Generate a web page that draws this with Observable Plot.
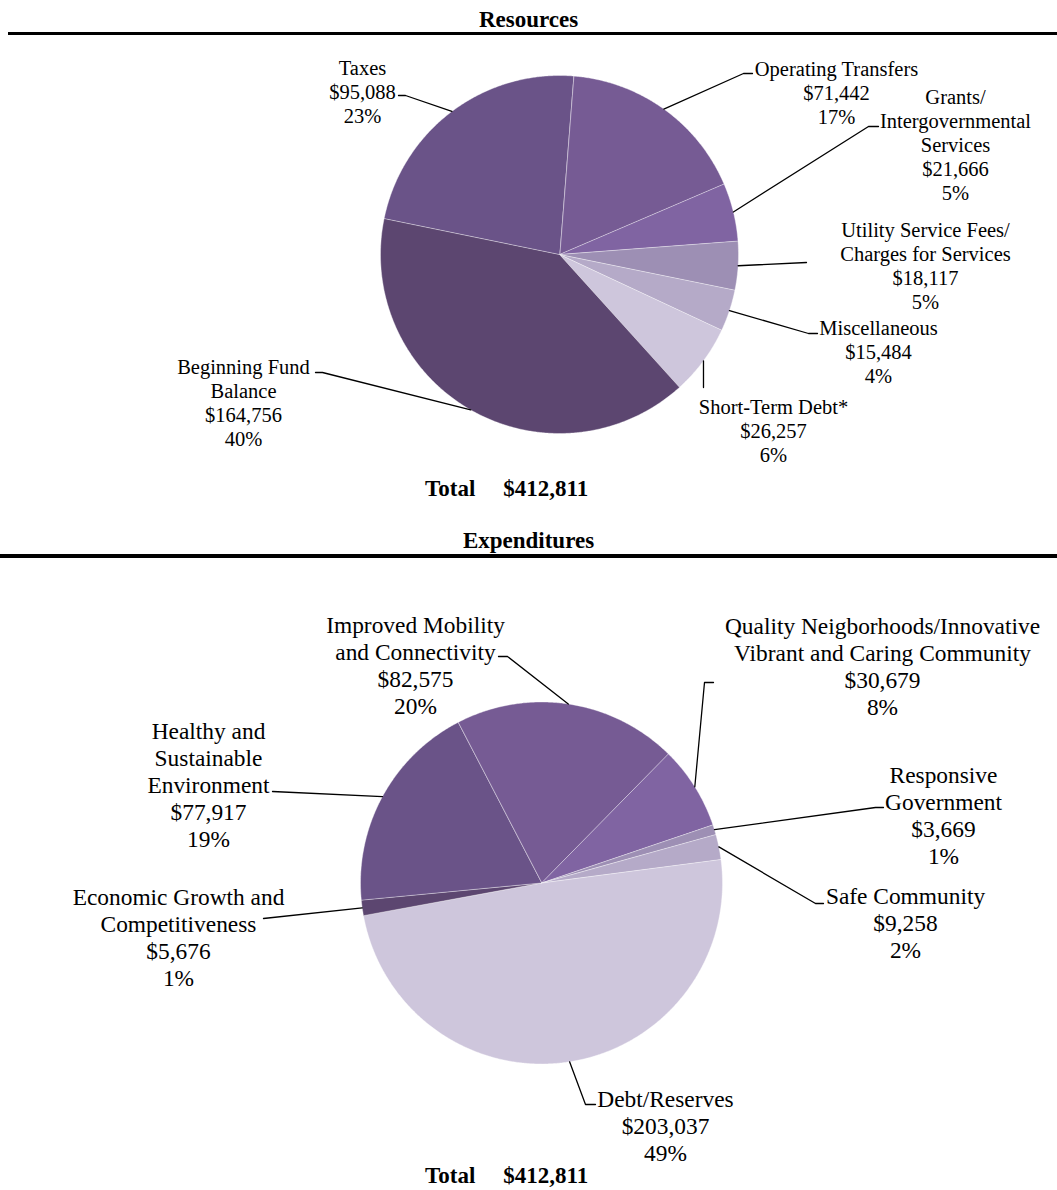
<!DOCTYPE html>
<html>
<head>
<meta charset="utf-8">
<script src="https://cdn.jsdelivr.net/npm/d3@7"></script>
<script src="https://cdn.jsdelivr.net/npm/@observablehq/plot@0.6"></script>
<style>
  body { margin: 0; background: #fff; font-family: "Liberation Serif", "Times New Roman", serif; }
  #page { position: relative; width: 1057px; height: 1190px; overflow: hidden; background: #fff; }
  .hd { position: absolute; left: 0; width: 1057px; text-align: center; font-weight: bold; font-size: 23px; line-height: 23px; color: #000; white-space: pre; }
  .total { position: absolute; left: 425px; font-weight: bold; font-size: 23px; line-height: 23px; color: #000; white-space: nowrap; }
  .total span.v { margin-left: 28px; }
  .rule { position: absolute; height: 3px; background: #000; }
  .plot { position: absolute; left: 0; }
</style>
</head>
<body>
<div id="page">
  <div class="hd" id="t1" style="top:8px"></div>
  <div class="rule" style="left:8px; width:1049px; top:32px"></div>
  <div class="plot" id="p1" style="top:36px"></div>
  <div class="total" id="tot1" style="top:477px"></div>
  <div class="hd" id="t2" style="top:529px"></div>
  <div class="rule" style="left:0; width:1057px; top:554px; height:3.5px"></div>
  <div class="plot" id="p2" style="top:560px"></div>
  <div class="total" id="tot2" style="top:1164px"></div>
</div>
<script>
// ---------- DATA ----------
const resourceTitle = "Resources";
const resourceCategories = [
  "Operating Transfers",
  "Grants/\nIntergovernmental\nServices",
  "Utility Service Fees/\nCharges for Services",
  "Miscellaneous",
  "Short-Term Debt*",
  "Beginning Fund\nBalance",
  "Taxes"
];
const resourceValues = [71442, 21666, 18117, 15484, 26257, 164756, 95088];
const resourcePercents = ["17%", "5%", "5%", "4%", "6%", "40%", "23%"];

const expenditureTitle = "Expenditures";
const expenditureCategories = [
  "Improved Mobility\nand Connectivity",
  "Quality Neigborhoods/Innovative\nVibrant and Caring Community",
  "Responsive\nGovernment",
  "Safe Community",
  "Debt/Reserves",
  "Economic Growth and\nCompetitiveness",
  "Healthy and\nSustainable\nEnvironment"
];
const expenditureValues = [82575, 30679, 3669, 9258, 203037, 5676, 77917];
const expenditurePercents = ["20%", "8%", "1%", "2%", "49%", "1%", "19%"];

const totalWord = "Total";
const totalAmount = "$412,811";

const palette = ["#765b94", "#8064a2", "#9d8fb4", "#b5aac8", "#cec6dc", "#5c4670", "#6a5388"];

// ---------- LAYOUT (page pixel coordinates) ----------
const layout1 = {
  top: 36, height: 434, cx: 559, cy: 254, r: 179, startDeg: 4.5,
  fontSize: 20.5, lineHeight: 1.17,
  labels: [
    { x: 836, y: 92,  elbow: [[743, 73], [752, 73]] },
    { x: 955, y: 144, elbow: [[868, 126], [878, 126]] },
    { x: 925, y: 265, elbow: [[806, 262]] },
    { x: 878, y: 351, elbow: [[808, 333], [817, 333]] },
    { x: 773, y: 430, elbow: [[703, 387]] },
    { x: 243, y: 402, elbow: [[322, 372], [315, 372]] },
    { x: 362, y: 90.5, elbow: [[405, 95], [398, 95]] }
  ]
};
const layout2 = {
  top: 560, height: 604, cx: 541, cy: 882.5, r: 181, startDeg: -27.5,
  fontSize: 23.4, lineHeight: 1.154,
  labels: [
    { x: 415, y: 664, elbow: [[507, 656], [498, 656]] },
    { x: 882, y: 665, elbow: [[704, 682], [713, 682]] },
    { x: 943, y: 814, elbow: [[875, 807], [883, 807]] },
    { x: 905, y: 922, elbow: [[815, 903], [823, 903]] },
    { x: 665, y: 1125, elbow: [[585, 1104], [595, 1104]] },
    { x: 178, y: 936, elbow: [[263, 918]] },
    { x: 208, y: 784, elbow: [[272, 791]] }
  ]
};

const fmt = d3.format("$,");

function pieChart(categories, values, percents, L) {
  const rows = categories.map((c, i) => ({ key: c, value: values[i], pct: percents[i] }));
  const a0 = L.startDeg * Math.PI / 180;
  const arcs = d3.pie().value(d => d.value).sort(null).startAngle(a0).endAngle(a0 + 2 * Math.PI)(rows);
  const pt = (a, rr) => ({ x: L.cx + rr * Math.sin(a), y: L.cy - rr * Math.cos(a) });

  const slicePts = [];
  arcs.forEach(a => {
    slicePts.push({ key: a.data.key, ...pt(0, 0) });
    const n = Math.max(2, Math.ceil((a.endAngle - a.startAngle) / (0.4 * Math.PI / 180)));
    for (let k = 0; k <= n; k++) {
      const t = a.startAngle + (a.endAngle - a.startAngle) * k / n;
      slicePts.push({ key: a.data.key, ...pt(t, L.r) });
    }
  });

  const leaderPts = [];
  const textRows = [];
  arcs.forEach((a, i) => {
    const lab = L.labels[i];
    const mid = (a.startAngle + a.endAngle) / 2;
    leaderPts.push({ key: a.data.key, ...pt(mid, L.r) });
    lab.elbow.forEach(([x, y]) => leaderPts.push({ key: a.data.key, x, y }));
    textRows.push({ x: lab.x, y: lab.y, text: `${a.data.key}\n${fmt(a.data.value)}\n${a.data.pct}` });
  });

  return Plot.plot({
    width: 1057,
    height: L.height,
    margin: 0,
    x: { domain: [0, 1057], range: [0, 1057], axis: null },
    y: { domain: [L.top, L.top + L.height], range: [0, L.height], axis: null },
    color: { domain: categories, range: palette },
    style: { fontFamily: "'Liberation Serif', 'Times New Roman', serif", background: "white", overflow: "visible" },
    marks: [
      Plot.line(slicePts, { x: "x", y: "y", z: "key", fill: "key", stroke: "#ffffff", strokeWidth: 0.7, strokeOpacity: 0.55, curve: "linear-closed" }),
      Plot.line(leaderPts, { x: "x", y: "y", z: "key", stroke: "#000", strokeWidth: 1.3 }),
      Plot.text(textRows, { x: "x", y: "y", text: "text", fontSize: L.fontSize, lineHeight: L.lineHeight, lineAnchor: "middle", textAnchor: "middle", fill: "#000" })
    ]
  });
}

document.getElementById("t1").textContent = resourceTitle;
document.getElementById("t2").textContent = expenditureTitle;
for (const id of ["tot1", "tot2"]) {
  const el = document.getElementById(id);
  const s1 = document.createElement("span"); s1.textContent = totalWord;
  const s2 = document.createElement("span"); s2.className = "v"; s2.textContent = totalAmount;
  el.append(s1, s2);
}
document.getElementById("p1").append(pieChart(resourceCategories, resourceValues, resourcePercents, layout1));
document.getElementById("p2").append(pieChart(expenditureCategories, expenditureValues, expenditurePercents, layout2));
</script>
</body>
</html>
